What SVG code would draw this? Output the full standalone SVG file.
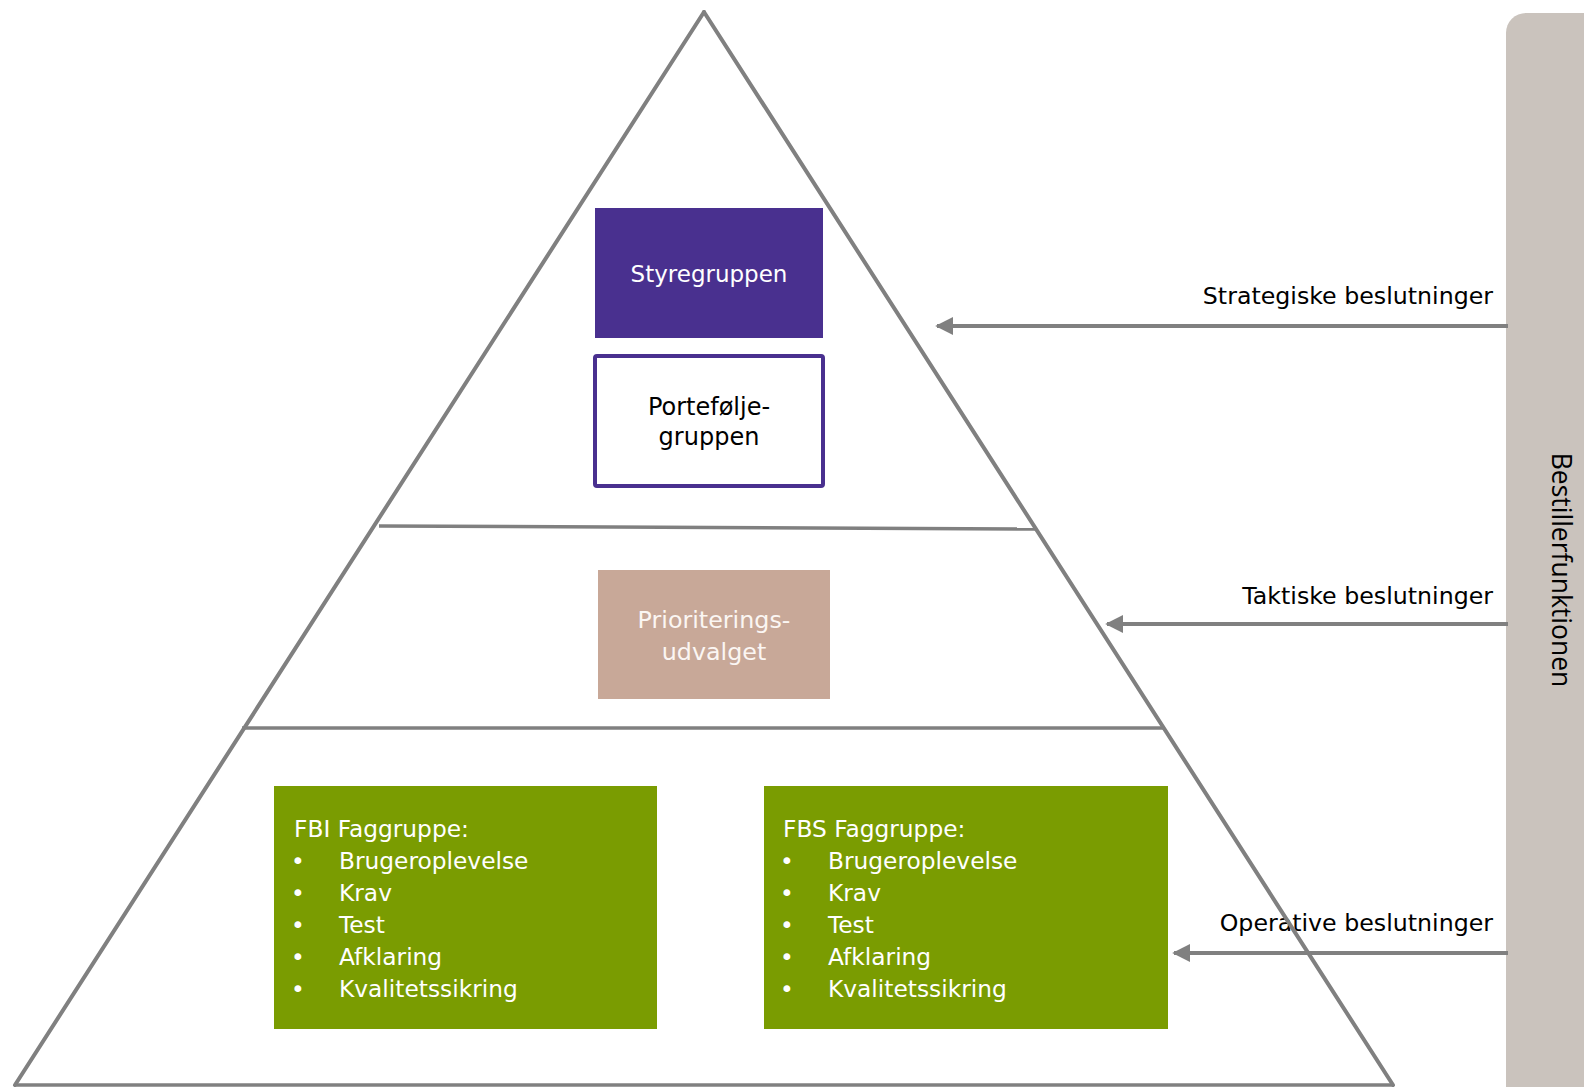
<svg xmlns="http://www.w3.org/2000/svg" width="1584" height="1087" viewBox="0 0 1584 1087">
  <defs>
    <style>
      text { font-family: "DejaVu Sans", "Liberation Sans", sans-serif; font-size: 23px; }
      .outline { stroke: #808080; stroke-width: 4; fill: none; stroke-linecap: round; }
      .tier { stroke: #808080; stroke-width: 3.5; fill: none; }
      .arrow { stroke: #808080; stroke-width: 4; fill: none; marker-end: url(#head); }
      .light { fill: #ffffff; }
      .dark { fill: #000000; }
      .mid { text-anchor: middle; }
      .end { text-anchor: end; }
      .item { font-size: 23.3px; }
      .decision { font-size: 23.7px; }
    </style>
    <marker id="head" viewBox="0 0 10 10" refX="9" refY="5" markerWidth="4.5" markerHeight="4.5" orient="auto" markerUnits="strokeWidth">
      <path d="M0,0 L10,5 L0,10 z" fill="#808080"/>
    </marker>
  </defs>

  <rect width="1584" height="1087" fill="#ffffff"/>

  <!-- side bar for the ordering function -->
  <g id="bestillerfunktionen">
    <rect x="1506" y="13" width="110" height="1094" rx="20" ry="20" fill="#cac3bd"/>
    <text class="dark mid" transform="translate(1552,570) rotate(90)" style="font-family: 'Open Sans', 'DejaVu Sans', sans-serif; font-size: 26.5px;">Bestillerfunktionen</text>
  </g>

  <!-- decision flows from the side bar into the pyramid -->
  <g id="connectors">
    <line class="arrow" x1="1508" y1="326" x2="937" y2="326"/>
    <text class="dark end decision" x="1493" y="304">Strategiske beslutninger</text>
    <line class="arrow" x1="1508" y1="624" x2="1107" y2="624"/>
    <text class="dark end decision" x="1493" y="604">Taktiske beslutninger</text>
    <text class="dark end decision" x="1493" y="931">Operative beslutninger</text>
    <line class="arrow" x1="1508" y1="953" x2="1174" y2="953"/>
  </g>

  <!-- pyramid outline and tier dividers -->
  <g id="pyramid">
    <line class="outline" x1="704" y1="12" x2="15" y2="1085"/>
    <line class="outline" x1="704" y1="12" x2="1393" y2="1085"/>
    <line class="tier" x1="15" y1="1085" x2="1393" y2="1085"/>
    <line class="tier" x1="379" y1="526" x2="1037" y2="529"/>
    <line class="tier" x1="242" y1="728" x2="1165" y2="728"/>
  </g>

  <g id="styregruppen">
    <rect x="595" y="208" width="228" height="130" fill="#49308f"/>
    <text class="light mid" x="709" y="282">Styregruppen</text>
  </g>

  <g id="portefoeljegruppen">
    <rect x="595" y="356" width="228" height="130" fill="#ffffff" stroke="#49308f" stroke-width="4" rx="2"/>
    <text class="dark mid" x="709" y="415" style="font-size: 24px;">Portefølje-</text>
    <text class="dark mid" x="709" y="445" style="font-size: 24px;">gruppen</text>
  </g>

  <g id="prioriteringsudvalget">
    <rect x="598" y="570" width="232" height="129" fill="#c8a898"/>
    <text class="mid" fill="#fbf6f3" x="714" y="628" style="font-size: 23.8px;">Prioriterings-</text>
    <text class="mid" fill="#fbf6f3" x="714" y="660" style="font-size: 23.8px;">udvalget</text>
  </g>

  <g id="fbi-faggruppe">
    <rect x="274" y="786" width="383" height="243" fill="#7a9c01"/>
    <text class="light item" x="294" y="837">FBI Faggruppe:</text>
    <text class="light item" x="291" y="869">•</text>
    <text class="light item" x="339" y="869">Brugeroplevelse</text>
    <text class="light item" x="291" y="901">•</text>
    <text class="light item" x="339" y="901">Krav</text>
    <text class="light item" x="291" y="933">•</text>
    <text class="light item" x="339" y="933">Test</text>
    <text class="light item" x="291" y="965">•</text>
    <text class="light item" x="339" y="965">Afklaring</text>
    <text class="light item" x="291" y="997">•</text>
    <text class="light item" x="339" y="997">Kvalitetssikring</text>
  </g>

  <g id="fbs-faggruppe">
    <rect x="764" y="786" width="404" height="243" fill="#7a9c01"/>
    <text class="light item" x="783" y="837">FBS Faggruppe:</text>
    <text class="light item" x="780" y="869">•</text>
    <text class="light item" x="828" y="869">Brugeroplevelse</text>
    <text class="light item" x="780" y="901">•</text>
    <text class="light item" x="828" y="901">Krav</text>
    <text class="light item" x="780" y="933">•</text>
    <text class="light item" x="828" y="933">Test</text>
    <text class="light item" x="780" y="965">•</text>
    <text class="light item" x="828" y="965">Afklaring</text>
    <text class="light item" x="780" y="997">•</text>
    <text class="light item" x="828" y="997">Kvalitetssikring</text>
  </g>
</svg>
